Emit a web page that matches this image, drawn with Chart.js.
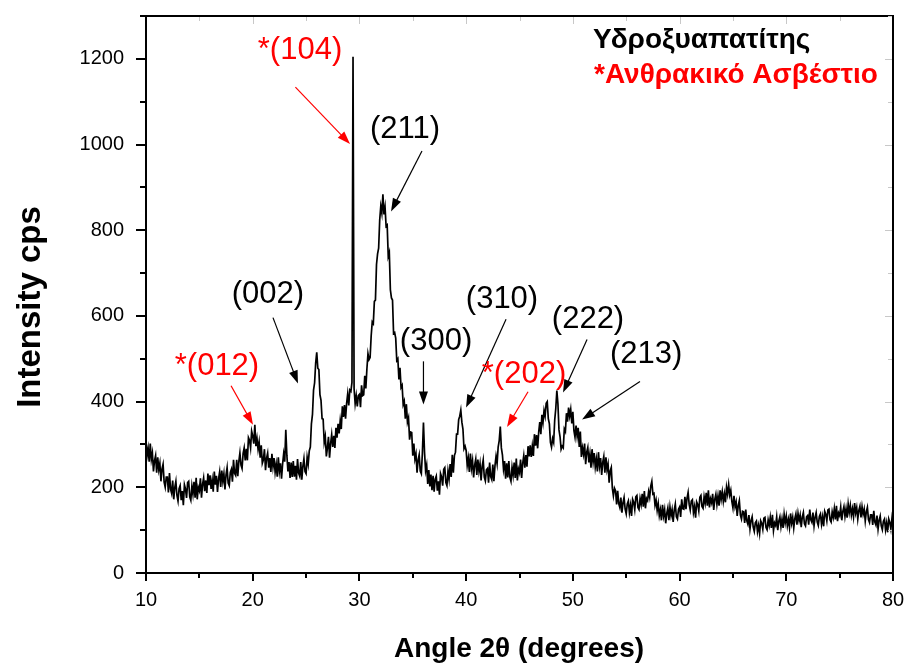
<!DOCTYPE html>
<html>
<head>
<meta charset="utf-8">
<script src="https://cdn.jsdelivr.net/npm/chart.js@4.4.1/dist/chart.umd.min.js"></script>
<style>
  html, body { margin: 0; padding: 0; background: #fff; }
</style>
</head>
<body>
<canvas id="xrd" width="906" height="664"></canvas>
<script>
// XRD scan: 2theta from 10 to 80, one reading every 0.1 deg (one row = 1 deg)
var angleStart = 10;
var angleStep = 0.1;
var intensity = [
  308,274,291,260,302,265,280,237,262,274,
  234,270,241,256,214,243,254,212,200,224,
  224,188,233,196,186,216,172,200,214,181,
  168,197,204,170,191,158,206,196,175,211,
  214,178,170,203,184,213,176,222,172,200,
  192,221,176,207,222,191,216,187,232,205,
  228,196,217,190,237,206,227,189,220,236,
  201,239,214,232,195,229,246,210,204,235,
  242,213,264,233,228,264,226,260,280,252,
  244,279,292,263,290,263,316,310,292,331,
  320,302,346,296,314,289,306,269,298,256,
  264,289,240,268,280,246,268,236,278,248,
  268,235,254,225,270,237,256,220,254,278,
  260,334,275,237,259,222,258,224,261,225,
  250,218,266,233,226,259,218,249,267,237,
  232,270,254,285,294,348,370,427,444,490,
  515,478,475,416,403,360,359,305,319,272,
  292,318,269,302,323,294,320,292,339,316,
  348,326,356,336,389,364,392,360,396,418,
  391,427,424,445,1205,430,395,414,389,414,
  417,387,438,414,416,460,431,476,512,498,
  503,553,586,582,634,637,720,745,758,824,
  856,840,884,837,854,809,812,739,748,661,
  642,637,559,561,548,496,500,452,479,433,
  438,393,401,360,394,352,362,311,329,328,
  274,302,266,278,234,264,276,238,232,280,
  351,282,239,252,208,240,202,230,193,227,
  190,219,226,192,214,183,232,224,204,242,
  246,211,204,238,219,254,224,276,234,274,
  282,324,324,358,366,380,352,336,290,296,
  286,251,268,236,279,244,262,223,252,266,
  229,265,238,255,216,249,264,224,215,241,
  244,211,258,225,218,253,214,250,272,255,
  294,309,342,292,276,243,261,220,256,223,
  261,223,214,247,228,258,222,267,216,243,
  234,265,222,256,274,246,275,248,296,272,
  298,271,296,273,324,297,322,291,329,352,
  324,369,351,379,366,396,400,360,348,305,
  294,314,305,357,384,426,395,334,318,289,
  296,292,336,330,373,353,386,366,382,349,
  376,332,317,344,319,339,294,330,271,292,
  277,302,254,282,293,258,278,246,289,259,
  280,247,266,237,282,249,268,229,258,272,
  234,270,241,254,211,238,246,198,180,198,
  192,160,192,162,153,176,141,164,176,149,
  138,161,168,141,158,133,172,165,148,178,
  181,153,148,174,160,185,155,191,151,174,
  169,190,177,203,214,184,186,158,170,146,
  162,134,148,123,159,133,148,116,139,152,
  123,154,134,148,119,147,161,131,126,149,
  154,131,172,150,149,178,149,175,188,160,
  147,168,171,141,155,129,166,160,145,177,
  181,155,151,178,163,187,157,193,153,173,
  164,185,147,172,184,160,180,157,193,172,
  190,167,185,165,200,184,206,182,193,167,
  152,180,155,166,133,158,169,135,126,144,
  143,117,148,122,114,135,103,122,131,107,
  97,117,121,96,111,92,122,116,102,128,
  130,106,101,124,111,130,105,136,99,117,
  111,131,100,121,131,108,126,105,137,117,
  133,110,125,106,139,116,130,105,127,138,
  113,139,122,135,107,131,141,115,110,131,
  134,113,148,124,118,141,110,130,141,119,
  111,132,138,114,131,109,144,137,122,147,
  149,124,119,143,130,150,125,157,121,140,
  134,154,123,144,155,132,150,129,161,141,
  158,135,150,131,163,140,153,126,146,156,
  130,155,137,149,121,143,153,125,118,136,
  136,112,145,119,112,134,103,123,133,110,
  101,121,126,101,117,95,126,118,103,127,
  108
];

// peak labels (Miller indices), * = calcite
var peakLabels = ["*(104)", "(211)", "(002)", "*(012)", "(300)", "(310)", "*(202)", "(222)", "(213)"];
var peakColors = ["red", "black", "black", "red", "black", "black", "red", "black", "black"];
var labelAt = [[24.43,1219],[34.27,1036],[21.43,650],[16.65,482],[37.18,540],[43.36,639],[45.42,463],[51.42,592],[56.86,510]];
var arrowFrom = [[24.0,1134],[35.86,985],[21.90,596],[17.97,437],[36.0,494],[43.74,592],[45.80,423],[51.33,545],[56.29,447]];
var arrowTo = [[29.12,1001],[32.96,844],[24.24,442],[20.03,346],[36.0,393],[39.99,386],[43.83,341],[49.08,421],[50.86,358]];

var legendText = ["Υδροξυαπατίτης", "*Ανθρακικό Ασβέστιο"];
var legendColors = ["black", "red"];

var xTitle = "Angle 2θ (degrees)";
var yTitle = "Intensity cps";

var points = intensity.map(function (v, i) {
  return { x: +(angleStart + i * angleStep).toFixed(1), y: v };
});

var FONT = "'Liberation Sans', Arial, sans-serif";

function arrow(ctx, x1, y1, x2, y2, color) {
  var ang = Math.atan2(y2 - y1, x2 - x1);
  var len = 13, half = 4.5;
  ctx.strokeStyle = color;
  ctx.fillStyle = color;
  ctx.lineWidth = 1.2;
  ctx.beginPath();
  ctx.moveTo(x1, y1);
  ctx.lineTo(x2 - Math.cos(ang) * len * 0.8, y2 - Math.sin(ang) * len * 0.8);
  ctx.stroke();
  ctx.beginPath();
  ctx.moveTo(x2, y2);
  ctx.lineTo(x2 - Math.cos(ang) * len - Math.sin(ang) * half, y2 - Math.sin(ang) * len + Math.cos(ang) * half);
  ctx.lineTo(x2 - Math.cos(ang) * len + Math.sin(ang) * half, y2 - Math.sin(ang) * len - Math.cos(ang) * half);
  ctx.closePath();
  ctx.fill();
}

var decor = {
  id: "decor",
  afterDraw: function (chart) {
    var ctx = chart.ctx, xs = chart.scales.x, ys = chart.scales.y, a = chart.chartArea;
    ctx.save();

    // frame
    ctx.strokeStyle = "#000";
    ctx.lineWidth = 2;
    ctx.strokeRect(a.left, a.top, a.right - a.left, a.bottom - a.top);

    // outside ticks on bottom and left
    var v, p;
    for (v = 10; v <= 80; v += 5) {
      p = Math.round(xs.getPixelForValue(v));
      ctx.beginPath();
      ctx.moveTo(p, a.bottom);
      ctx.lineTo(p, a.bottom + (v % 10 === 0 ? 8 : 5));
      ctx.stroke();
    }
    for (v = 0; v <= 1300; v += 100) {
      p = Math.round(ys.getPixelForValue(v));
      ctx.beginPath();
      ctx.moveTo(a.left, p);
      ctx.lineTo(a.left - (v % 200 === 0 ? 10 : 6), p);
      ctx.stroke();
    }
    // faint inside ticks on top and right
    ctx.strokeStyle = "#c8c8c8";
    ctx.lineWidth = 1;
    for (v = 15; v < 80; v += 5) {
      p = Math.round(xs.getPixelForValue(v)) + 0.5;
      ctx.beginPath();
      ctx.moveTo(p, a.top + 1);
      ctx.lineTo(p, a.top + (v % 10 === 0 ? 8 : 5));
      ctx.stroke();
    }
    for (v = 100; v <= 1300; v += 100) {
      p = Math.round(ys.getPixelForValue(v)) + 0.5;
      ctx.beginPath();
      ctx.moveTo(a.right - 1, p);
      ctx.lineTo(a.right - (v % 200 === 0 ? 8 : 5), p);
      ctx.stroke();
    }

    // peak labels and arrows
    ctx.textAlign = "center";
    ctx.textBaseline = "middle";
    ctx.font = "31px " + FONT;
    for (var i = 0; i < peakLabels.length; i++) {
      ctx.fillStyle = peakColors[i];
      ctx.fillText(peakLabels[i], xs.getPixelForValue(labelAt[i][0]), ys.getPixelForValue(labelAt[i][1]));
      arrow(ctx,
        xs.getPixelForValue(arrowFrom[i][0]), ys.getPixelForValue(arrowFrom[i][1]),
        xs.getPixelForValue(arrowTo[i][0]), ys.getPixelForValue(arrowTo[i][1]),
        peakColors[i]);
    }

    // legend text
    ctx.textAlign = "left";
    ctx.font = "bold 28px " + FONT;
    ctx.fillStyle = legendColors[0];
    ctx.fillText(legendText[0], 593, 40);
    ctx.fillStyle = legendColors[1];
    ctx.fillText(legendText[1], 594, 75);

    // axis titles
    ctx.fillStyle = "#000";
    ctx.textAlign = "center";
    ctx.font = "bold 28px " + FONT;
    ctx.fillText(xTitle, 519, 649);
    ctx.save();
    ctx.translate(31, 307);
    ctx.rotate(-Math.PI / 2);
    ctx.font = "bold 33px " + FONT;
    ctx.fillText(yTitle, 0, 0);
    ctx.restore();

    ctx.restore();
  }
};

new Chart("xrd", {
  type: "line",
  data: {
    datasets: [{
      data: points,
      borderColor: "#000",
      borderWidth: 1.7,
      pointRadius: 0,
      tension: 0,
      fill: false
    }]
  },
  options: {
    responsive: false,
    animation: false,
    devicePixelRatio: 1,
    layout: { padding: { top: 16, right: 13, left: 0, bottom: 0 } },
    plugins: { legend: { display: false }, tooltip: { enabled: false } },
    scales: {
      x: {
        type: "linear",
        min: 10,
        max: 80,
        grid: { display: false, drawTicks: false },
        border: { display: false },
        ticks: { stepSize: 10, color: "#000", padding: 15, font: { family: FONT, size: 20 } },
        afterFit: function (s) { s.height = 91; s.paddingLeft = 0; s.paddingRight = 0; }
      },
      y: {
        min: 0,
        max: 1300,
        grid: { display: false, drawTicks: false },
        border: { display: false },
        ticks: {
          stepSize: 200, color: "#000", padding: 22, font: { family: FONT, size: 20 },
          callback: function (v) { return v % 200 === 0 ? v : ""; }
        },
        afterFit: function (s) { s.width = 146; s.paddingTop = 0; s.paddingBottom = 0; }
      }
    }
  },
  plugins: [decor]
});
</script>
</body>
</html>
